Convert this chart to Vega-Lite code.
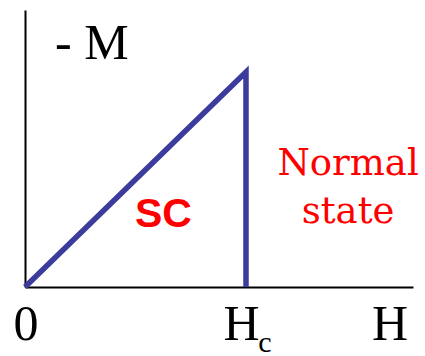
{
  "$schema": "https://vega.github.io/schema/vega-lite/v6.json",
  "width": 388,
  "height": 277,
  "autosize": {"type": "none"},
  "padding": {"left": 25, "top": 10, "right": 12, "bottom": 69},
  "background": "white",
  "config": {"view": {"stroke": null}},
  "datasets": {
    "curve": [
      {"H": 0, "M": 0, "k": 0},
      {"H": 1, "M": 1, "k": 1},
      {"H": 1, "M": 0, "k": 2}
    ],
    "axisLabels": [
      {"H": 0.0045, "M": -0.2465, "label": "0"},
      {"H": 0.98, "M": -0.2465, "label": "H"},
      {"H": 1.6516, "M": -0.2465, "label": "H"}
    ],
    "subscript": [
      {"H": 1.055, "M": -0.302, "label": "c"}
    ],
    "yLabel": [
      {"H": 0.1357, "M": 1.0605, "label": "- M"}
    ],
    "scLabel": [
      {"H": 0.6267, "M": 0.279, "label": "SC"}
    ],
    "normalLabel": [
      {"H": 1.462, "M": 0.521, "label": "Normal"},
      {"H": 1.462, "M": 0.2977, "label": "state"}
    ]
  },
  "encoding": {
    "x": {
      "field": "H",
      "type": "quantitative",
      "scale": {"domain": [0, 1.7557], "nice": false, "zero": false},
      "axis": {"domainColor": "black", "domainWidth": 2, "ticks": false, "labels": false, "grid": false, "title": null}
    },
    "y": {
      "field": "M",
      "type": "quantitative",
      "scale": {"domain": [0, 1.2884], "nice": false, "zero": false},
      "axis": {"domainColor": "black", "domainWidth": 2, "ticks": false, "labels": false, "grid": false, "title": null}
    }
  },
  "layer": [
    {
      "data": {"name": "curve"},
      "mark": {"type": "line", "color": "#3b3c9c", "strokeWidth": 5.5},
      "encoding": {"order": {"field": "k", "type": "quantitative"}}
    },
    {
      "data": {"name": "axisLabels"},
      "mark": {"type": "text", "font": "Liberation Serif", "fontSize": 50, "align": "center", "baseline": "alphabetic", "color": "black"},
      "encoding": {"text": {"field": "label"}}
    },
    {
      "data": {"name": "subscript"},
      "mark": {"type": "text", "font": "Liberation Serif", "fontSize": 30, "align": "left", "baseline": "alphabetic", "color": "black"},
      "encoding": {"text": {"field": "label"}}
    },
    {
      "data": {"name": "yLabel"},
      "mark": {"type": "text", "font": "Liberation Serif", "fontSize": 50, "align": "left", "baseline": "alphabetic", "color": "black"},
      "encoding": {"text": {"field": "label"}}
    },
    {
      "data": {"name": "scLabel"},
      "mark": {"type": "text", "font": "Liberation Sans", "fontSize": 41, "fontWeight": "bold", "align": "center", "baseline": "alphabetic", "color": "#ff0000"},
      "encoding": {"text": {"field": "label"}}
    },
    {
      "data": {"name": "normalLabel"},
      "mark": {"type": "text", "font": "DejaVu Serif", "fontSize": 37, "align": "center", "baseline": "alphabetic", "color": "#ff0000"},
      "encoding": {"text": {"field": "label"}}
    }
  ]
}
